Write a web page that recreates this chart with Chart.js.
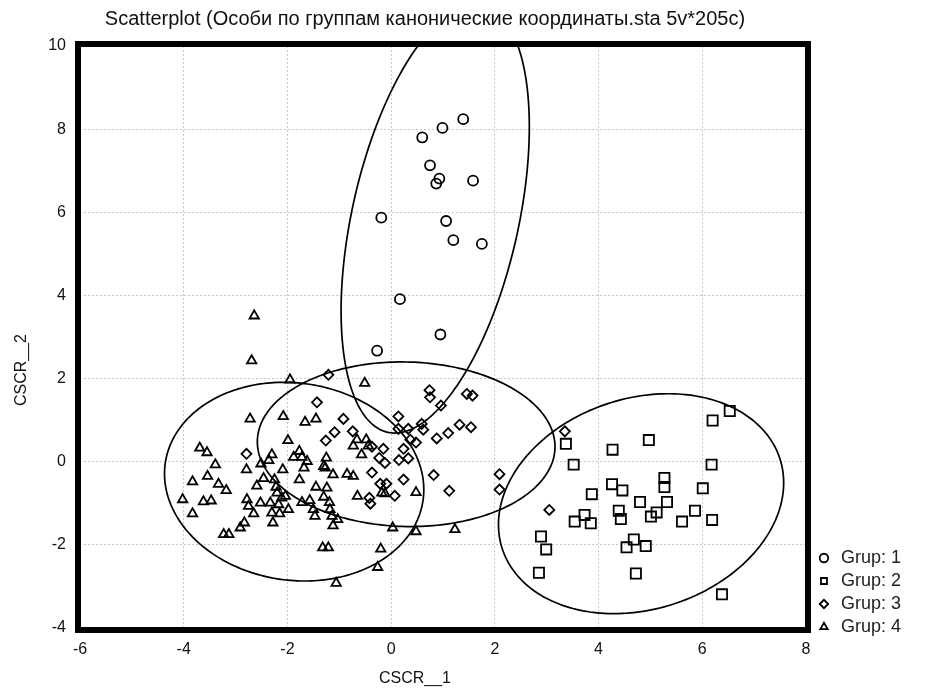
<!DOCTYPE html>
<html>
<head>
<meta charset="utf-8">
<script src="https://cdn.jsdelivr.net/npm/chart.js@4/dist/chart.umd.min.js"></script>
<style>
	html, body { margin: 0; padding: 0; background: #fff; }
	canvas { display: block; }
</style>
</head>
<body>
<canvas id="graficoDispersao" width="931" height="693"></canvas>
<script>
	// textos
	var tituloGrafico = "Scatterplot (Особи по группам канонические координаты.sta 5v*205c)";
	var tituloEixoX = "CSCR__1";
	var tituloEixoY = "CSCR__2";
	var nomesGrupos = ["Grup: 1", "Grup: 2", "Grup: 3", "Grup: 4"];

	// eixos
	var ticksX = [-6, -4, -2, 0, 2, 4, 6, 8];
	var ticksY = [-4, -2, 0, 2, 4, 6, 8, 10];

	// pontos [CSCR_1, CSCR_2]
	var grup1 = [
		[1.39, 8.24], [0.99, 8.03], [0.60, 7.80], [0.75, 7.13], [0.93, 6.81], [0.87, 6.69], [1.58, 6.76],
		[-0.19, 5.87], [1.06, 5.79], [1.20, 5.33], [1.75, 5.24], [0.17, 3.91], [0.95, 3.06], [-0.27, 2.67]
	];

	var grup2 = [
		[6.53, 1.22], [6.20, 0.99], [4.97, 0.52], [4.27, 0.29], [3.37, 0.43], [3.52, -0.07], [6.18, -0.07],
		[5.27, -0.39], [5.27, -0.61], [6.01, -0.64], [4.26, -0.54], [4.46, -0.69], [3.87, -0.78], [4.80, -0.97],
		[5.32, -0.97], [4.39, -1.18], [4.43, -1.38], [5.12, -1.22], [5.01, -1.32], [5.86, -1.18], [5.61, -1.44],
		[6.19, -1.40], [3.73, -1.28], [3.54, -1.44], [3.85, -1.48], [2.89, -1.80], [2.99, -2.11], [2.85, -2.67],
		[4.68, -1.87], [4.54, -2.06], [4.91, -2.03], [4.72, -2.69], [6.38, -3.19]
	];

	var grup3 = [
		[-1.21, 2.09], [-1.43, 1.43], [-0.92, 1.03], [-1.09, 0.71], [-1.26, 0.51], [-0.74, 0.73], [-2.79, 0.19],
		[-0.37, 0.36], [-0.15, 0.31], [-0.23, 0.09], [-0.12, -0.03], [-0.37, -0.26], [-0.21, -0.53], [-0.09, -0.53],
		[-0.42, -0.87], [-0.40, -1.01], [0.07, -0.82], [0.24, -0.43], [0.15, 0.04], [0.33, 0.08], [0.24, 0.31],
		[0.14, 1.09], [0.14, 0.79], [0.33, 0.79], [0.59, 0.91], [0.62, 0.77], [0.37, 0.53], [0.48, 0.46],
		[0.74, 1.72], [0.75, 1.55], [0.96, 1.35], [1.46, 1.63], [1.57, 1.59], [0.88, 0.56], [1.10, 0.69],
		[1.32, 0.89], [1.54, 0.83], [0.82, -0.32], [1.12, -0.70], [2.09, -0.30], [2.09, -0.67], [3.05, -1.16],
		[3.35, 0.73]
	];

	var grup4 = [
		[-2.64, 3.51], [-2.69, 2.43], [-1.95, 1.97], [-0.51, 1.89], [-2.72, 1.03], [-2.08, 1.09], [-1.66, 0.95],
		[-1.45, 1.03], [-1.99, 0.51], [-3.69, 0.33], [-3.55, 0.22], [-3.39, -0.07], [-3.83, -0.48], [-3.54, -0.35],
		[-3.33, -0.54], [-3.18, -0.69], [-4.02, -0.91], [-3.62, -0.96], [-3.47, -0.94], [-3.83, -1.25], [-3.23, -1.75],
		[-3.13, -1.75], [-2.91, -1.59], [-2.83, -1.47], [-2.79, -0.19], [-2.51, -0.05], [-2.30, 0.17], [-2.36, 0.03],
		[-2.09, -0.19], [-2.46, -0.40], [-2.59, -0.58], [-2.25, -0.43], [-2.22, -0.61], [-2.20, -0.75], [-2.11, -0.87],
		[-2.04, -0.83], [-2.78, -0.91], [-2.75, -1.07], [-2.65, -1.25], [-2.52, -0.99], [-2.33, -0.99], [-2.17, -1.03],
		[-2.30, -1.23], [-2.15, -1.25], [-1.98, -1.15], [-2.28, -1.47], [-1.88, 0.11], [-1.77, 0.25], [-1.72, 0.11],
		[-1.62, 0.01], [-1.68, -0.15], [-1.77, -0.43], [-1.45, -0.61], [-1.24, -0.63], [-1.30, -0.11], [-1.25, 0.09],
		[-1.12, -0.31], [-1.30, -0.85], [-1.19, -0.98], [-1.72, -0.98], [-1.57, -0.93], [-1.50, -1.15], [-1.47, -1.31],
		[-1.18, -1.15], [-1.14, -1.31], [-1.03, -1.39], [-1.12, -1.54], [-1.32, -2.07], [-1.21, -2.07], [-1.06, -2.92],
		[-0.85, -0.30], [-0.73, -0.35], [-0.65, -0.83], [-0.73, 0.38], [-0.66, 0.53], [-0.57, 0.17], [-0.48, 0.53],
		[-0.44, 0.38], [-0.18, -0.75], [-0.12, -0.77], [0.03, -1.59], [0.48, -0.74], [0.48, -1.68], [-0.20, -2.10],
		[-0.26, -2.54], [1.23, -1.63], [-1.27, -0.15]
	];

	// elipses (grupo 1, 2, 3, 4): centro, semi-largura, semi-altura, inclinacao
	var elipseCentroX = [0.85, 4.82, 0.29, -1.87];
	var elipseCentroY = [5.84, -1.01, 0.42, -0.48];
	var elipseSemiX = [1.815, 2.75, 2.87, 2.5];
	var elipseSemiY = [5.15, 2.645, 1.98, 2.39];
	var elipseInclinacao = [0.43, 0.19, -0.03, -0.08];

	var _fonte = '"Liberation Sans", Arial, sans-serif';

	function _pontos(lista) {
		return lista.map(function(p) { return { x: p[0], y: p[1] }; });
	}

	var _estilos = [
		{ pointStyle: 'circle', pointRadius: 5 },
		{ pointStyle: 'rect', pointRadius: 7.2 },
		{ pointStyle: 'rectRot', pointRadius: 5 },
		{ pointStyle: 'triangle', pointRadius: 5.4 }
	];

	var _dataGrafico = {
		datasets: [grup1, grup2, grup3, grup4].map(function(grupo, i) {
			return {
				label: nomesGrupos[i],
				data: _pontos(grupo),
				pointStyle: _estilos[i].pointStyle,
				pointRadius: _estilos[i].pointRadius,
				pointHoverRadius: _estilos[i].pointRadius,
				borderColor: '#000',
				backgroundColor: 'rgba(255,255,255,0)',
				borderWidth: 1.5,
				pointBorderWidth: 1.8
			};
		})
	};

	var elipsesPlugin = {
		id: 'elipses',
		afterDatasetsDraw: function(chart) {
			var ctx = chart.ctx, area = chart.chartArea;
			var sx = chart.scales.x, sy = chart.scales.y;
			ctx.save();
			ctx.beginPath();
			ctx.rect(area.left, area.top, area.right - area.left, area.bottom - area.top);
			ctx.clip();
			ctx.strokeStyle = '#000';
			ctx.lineWidth = 1.7;
			for (var e = 0; e < elipseCentroX.length; e++) {
				var delta = Math.acos(elipseInclinacao[e]);
				ctx.beginPath();
				for (var k = 0; k <= 240; k++) {
					var t = k / 240 * Math.PI * 2;
					var vx = elipseCentroX[e] + elipseSemiX[e] * Math.cos(t);
					var vy = elipseCentroY[e] + elipseSemiY[e] * Math.cos(t - delta);
					var px = sx.getPixelForValue(vx), py = sy.getPixelForValue(vy);
					if (k == 0) ctx.moveTo(px, py); else ctx.lineTo(px, py);
				}
				ctx.closePath();
				ctx.stroke();
			}
			ctx.restore();
		}
	};

	var molduraPlugin = {
		id: 'moldura',
		afterLayout: function(chart) {
			// legenda junto ao canto inferior direito da area de plotagem
			chart.legend.top -= 52;
			chart.legend.bottom -= 52;
			chart.legend.left += 5;
			chart.legend.right += 5;
		},
		afterDraw: function(chart) {
			var ctx = chart.ctx, area = chart.chartArea;
			ctx.save();
			ctx.strokeStyle = '#000';
			ctx.lineWidth = 6;
			ctx.strokeRect(area.left - 2, area.top - 2, area.right - area.left + 4, area.bottom - area.top + 4);

			ctx.fillStyle = '#111';
			ctx.textAlign = 'center';
			ctx.textBaseline = 'middle';
			ctx.font = '20px ' + _fonte;
			ctx.fillText(tituloGrafico, 425, 19);
			ctx.font = '16px ' + _fonte;
			ctx.fillText(tituloEixoX, 415, 679);
			ctx.translate(22, 370);
			ctx.rotate(-Math.PI / 2);
			ctx.fillText(tituloEixoY, 0, 0);
			ctx.restore();
		}
	};

	new Chart(document.getElementById('graficoDispersao').getContext('2d'), {
		type: 'scatter',
		data: _dataGrafico,
		plugins: [elipsesPlugin, molduraPlugin],
		options: {
			responsive: false,
			animation: false,
			layout: { padding: { left: 0, right: 25, top: 46, bottom: 0 } },
			plugins: {
				title: { display: false },
				tooltip: { enabled: false },
				legend: {
					position: 'right',
					align: 'end',
					labels: {
						usePointStyle: true,
						boxWidth: 16,
						boxHeight: 6,
						padding: 5,
						color: '#222',
						font: { size: 18, family: _fonte }
					}
				}
			},
			scales: {
				x: {
					type: 'linear',
					min: ticksX[0],
					max: ticksX[ticksX.length - 1],
					afterBuildTicks: function(scale) {
						scale.ticks = ticksX.map(function(v) { return { value: v }; });
					},
					afterFit: function(scale) { scale.height = 65; },
					grid: { color: '#c8c8c8', lineWidth: 1, drawTicks: false },
					border: { display: false, dash: [2, 2] },
					ticks: { padding: 12, color: '#111', font: { size: 16, family: _fonte } }
				},
				y: {
					type: 'linear',
					min: ticksY[0],
					max: ticksY[ticksY.length - 1],
					afterBuildTicks: function(scale) {
						scale.ticks = ticksY.map(function(v) { return { value: v }; });
					},
					afterFit: function(scale) { scale.width = 80; },
					grid: { color: '#c8c8c8', lineWidth: 1, drawTicks: false },
					border: { display: false, dash: [2, 2] },
					ticks: { padding: 14, color: '#111', font: { size: 16, family: _fonte } }
				}
			}
		}
	});
</script>
</body>
</html>
